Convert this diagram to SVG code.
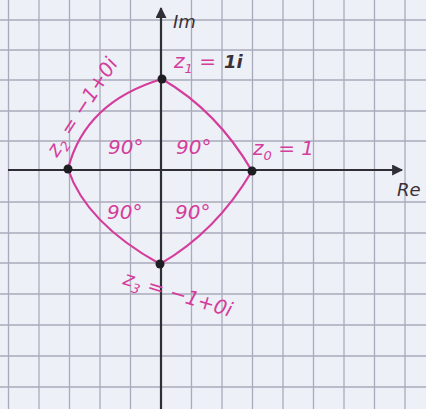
<svg xmlns="http://www.w3.org/2000/svg" width="426" height="409" viewBox="0 0 426 409">
<defs>
<style>
.grid line{stroke:#a9abbb;stroke-width:1.3}
.axis{stroke:#2e2e34;stroke-width:2.2;fill:none}
.arc{stroke:#d43d9c;stroke-width:2.2;fill:none}
.dot{fill:#1e1e22}
.lbl{font-family:"DejaVu Sans",sans-serif;font-style:italic;fill:#d43d9c;font-size:20px}
.dark{font-family:"DejaVu Sans",sans-serif;font-style:italic;fill:#3a3036;font-size:18px}
.ang{font-family:"DejaVu Sans",sans-serif;font-style:italic;fill:#d43d9c;font-size:20px}
</style>
<marker id="ah" viewBox="0 0 10 10" refX="9" refY="5" markerWidth="13" markerHeight="11" orient="auto" markerUnits="userSpaceOnUse">
<path d="M0,0 L10,5 L0,10 z" fill="#2e2e34"/>
</marker>
</defs>
<rect width="426" height="409" fill="#eef0f7"/>
<g class="grid">
<line x1="8.5" y1="0" x2="8.5" y2="409"/><line x1="39" y1="0" x2="39" y2="409"/><line x1="69.5" y1="0" x2="69.5" y2="409"/><line x1="100" y1="0" x2="100" y2="409"/><line x1="130.5" y1="0" x2="130.5" y2="409"/><line x1="191.5" y1="0" x2="191.5" y2="409"/><line x1="222" y1="0" x2="222" y2="409"/><line x1="252.5" y1="0" x2="252.5" y2="409"/><line x1="283" y1="0" x2="283" y2="409"/><line x1="313.5" y1="0" x2="313.5" y2="409"/><line x1="344" y1="0" x2="344" y2="409"/><line x1="374.5" y1="0" x2="374.5" y2="409"/><line x1="405" y1="0" x2="405" y2="409"/>
<line x1="0" y1="20" x2="426" y2="20"/><line x1="0" y1="50" x2="426" y2="50"/><line x1="0" y1="80" x2="426" y2="80"/><line x1="0" y1="111" x2="426" y2="111"/><line x1="0" y1="141" x2="426" y2="141"/><line x1="0" y1="202" x2="426" y2="202"/><line x1="0" y1="233" x2="426" y2="233"/><line x1="0" y1="263" x2="426" y2="263"/><line x1="0" y1="294" x2="426" y2="294"/><line x1="0" y1="325" x2="426" y2="325"/><line x1="0" y1="356" x2="426" y2="356"/><line x1="0" y1="387" x2="426" y2="387"/>
</g>
<g id="axes">
<line class="axis" x1="8" y1="170" x2="402" y2="170" marker-end="url(#ah)"/>
<line class="axis" x1="161" y1="409" x2="161" y2="8" marker-end="url(#ah)"/>
<text class="dark" x="173" y="28">Im</text>
<text class="dark" x="397" y="196">Re</text>
</g>
<g id="connectors">
<path class="arc" d="M68,169 Q85,102 162,79"/>
<path class="arc" d="M162,79 Q217,111 252,171"/>
<path class="arc" d="M252,171 Q216,232 160,264"/>
<path class="arc" d="M160,264 Q86,223 68,169"/>
</g>
<g id="z1">
<circle class="dot" cx="162" cy="79" r="4.5"/>
<text class="lbl" x="174" y="68">z<tspan font-size="13" dy="5">1</tspan><tspan dy="-5"> = </tspan></text>
<text class="dark" x="224" y="68" font-weight="bold">1i</text>
</g>
<g id="z0">
<circle class="dot" cx="252" cy="171" r="4.5"/>
<text class="lbl" x="253" y="155">z<tspan font-size="13" dy="5">0</tspan><tspan dy="-5"> = 1</tspan></text>
</g>
<g id="z2">
<circle class="dot" cx="68" cy="169" r="4.5"/>
<text class="lbl" font-size="19" transform="translate(57,158) rotate(-57)">z<tspan font-size="13" dy="5">2</tspan><tspan dy="-5"> = −1+0i</tspan></text>
</g>
<g id="z3">
<circle class="dot" cx="160" cy="264" r="4.5"/>
<text class="lbl" transform="translate(122,284) rotate(17)">z<tspan font-size="13" dy="5">3</tspan><tspan dy="-5"> = −1+0i</tspan></text>
</g>
<g id="angles">
<text class="ang" x="108" y="154">90°</text>
<text class="ang" x="176" y="154">90°</text>
<text class="ang" x="107" y="219">90°</text>
<text class="ang" x="175" y="219">90°</text>
</g>
</svg>
